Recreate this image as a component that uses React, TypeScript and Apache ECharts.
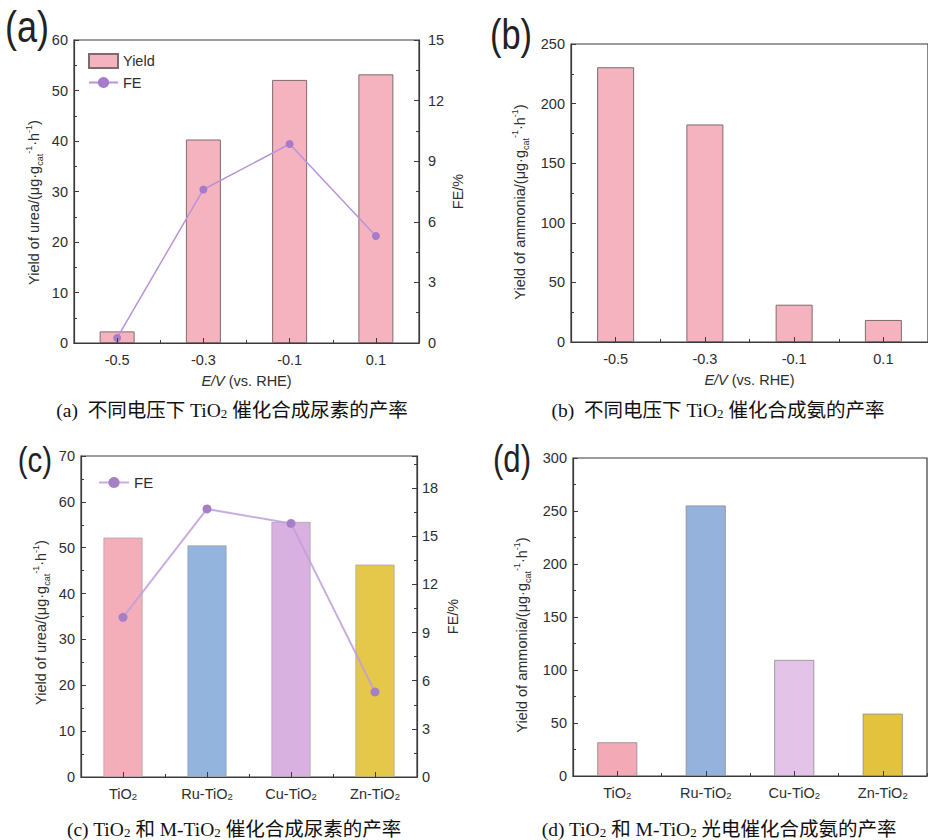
import React, { useEffect, useRef } from 'react';
import * as echarts from 'echarts';

// ---------- data ----------
const voltages = ['-0.5', '-0.3', '-0.1', '0.1'];
const ureaYield = [2.3, 40.3, 52.1, 53.2];
const ureaFE = [0.25, 7.6, 9.85, 5.3];
const ammoniaYield = [230.5, 182.5, 31.3, 18.5];

const catalysts = ['TiO2', 'Ru-TiO2', 'Cu-TiO2', 'Zn-TiO2'];
const catUreaYield = [52.2, 50.5, 55.6, 46.3];
const catUreaFE = [9.95, 16.7, 15.8, 5.3];
const catAmmoniaYield = [31.8, 255.2, 109.5, 58.8];

const panelLabels = ['(a)', '(b)', '(c)', '(d)'];
const captions = [
  '(a)  不同电压下 TiO{s|2} 催化合成尿素的产率',
  '(b)  不同电压下 TiO{s|2} 催化合成氨的产率',
  '(c) TiO{s|2} 和 M-TiO{s|2} 催化合成尿素的产率',
  '(d) TiO{s|2} 和 M-TiO{s|2} 光电催化合成氨的产率',
];

// ---------- styles ----------
const FONT = "'Liberation Sans', Arial, Helvetica, sans-serif";
const SERIF = "'Liberation Serif', 'Times New Roman', 'Noto Sans CJK SC', serif";
const AXIS = '#3a3a3a';
const TXT = '#2e2e2e';
const pink = '#f5b3bf';
const barBorder = '#7d6b6e';
const catColorsUrea = ['#f4aeb9', '#93b4dc', '#d9b1e0', '#e5c84a'];
const catColorsAmmonia = ['#f4a9b6', '#94b2dc', '#e3c4e8', '#e3c33d'];

const yNameRich = {
  n: { fontSize: 14.5, fontFamily: FONT, color: TXT, lineHeight: 20 },
  s: { fontSize: 9, fontFamily: FONT, color: TXT, lineHeight: 9, verticalAlign: 'bottom' },
  p: { fontSize: 9, fontFamily: FONT, color: TXT, lineHeight: 9, verticalAlign: 'top' },
};
const yName = (prefix: string) =>
  `{n|${prefix}/(μg·g}{s|cat}{p|-1}{n|·h}{p|-1}{n|)}`;

const subFmt = (v: string) => v.replace(/2$/, '{s|2}');
const subRich = { s: { fontSize: 9.5, fontFamily: FONT, color: TXT, verticalAlign: 'bottom', lineHeight: 10 } };

function yAxisDef(gridIndex: number, max: number, interval: number, extra: any = {}) {
  return {
    type: 'value',
    gridIndex,
    min: 0,
    max,
    interval,
    axisLine: { show: true, lineStyle: { color: AXIS, width: 1.2 } },
    axisTick: { show: true, inside: true, length: 5, lineStyle: { color: AXIS } },
    minorTick: { show: true, splitNumber: 2, length: 3, lineStyle: { color: AXIS } },
    splitLine: { show: false },
    axisLabel: { color: TXT, fontSize: 14.5, fontFamily: FONT, margin: 6 },
    nameLocation: 'middle',
    nameRotate: 90,
    ...extra,
  };
}

function xMain(gridIndex: number, data: string[], extra: any = {}) {
  return {
    type: 'category',
    gridIndex,
    data,
    position: 'bottom',
    z: 10,
    axisLine: { show: true, onZero: false, lineStyle: { color: AXIS, width: 1.2 } },
    axisTick: { show: true, inside: true, alignWithLabel: true, length: 5, lineStyle: { color: AXIS } },
    axisLabel: {
      color: TXT,
      fontSize: 14.5,
      fontFamily: FONT,
      margin: 9,
      interval: 0,
      formatter: subFmt,
      rich: subRich,
    },
    ...extra,
  };
}

function xMinor(gridIndex: number, data: string[]) {
  return {
    type: 'category',
    gridIndex,
    data,
    position: 'bottom',
    z: 10,
    axisLine: { show: false, onZero: false },
    axisLabel: { show: false },
    axisTick: { show: true, inside: true, length: 3, lineStyle: { color: AXIS } },
    splitLine: { show: false },
  };
}

const xNameAV = {
  name: '{i|E/V} (vs. RHE)',
  nameLocation: 'middle',
  nameGap: 30,
  nameTextStyle: {
    fontSize: 14.5,
    fontFamily: FONT,
    color: TXT,
    rich: { i: { fontSize: 14.5, fontFamily: FONT, color: TXT, fontStyle: 'italic' } },
  },
};

export default function App() {
  const ref = useRef<HTMLDivElement>(null);

  useEffect(() => {
    if (!ref.current) return;
    const chart = echarts.init(ref.current, null, { renderer: 'svg' });

    const grids = [
      { left: 74, top: 40, width: 345, height: 303 },
      { left: 571, top: 44, width: 367, height: 298 },
      { left: 81, top: 456, width: 336, height: 321 },
      { left: 573, top: 458, width: 354, height: 318 },
    ].map((g) => ({ ...g, show: true, borderColor: AXIS, borderWidth: 1.2, backgroundColor: 'transparent' }));

    const option: any = {
      animation: false,
      backgroundColor: '#fff',
      grid: grids,
      xAxis: [
        xMain(0, voltages, xNameAV),
        xMain(1, voltages, xNameAV),
        xMain(2, catalysts),
        xMain(3, catalysts),
        xMinor(0, voltages),
        xMinor(1, voltages),
        xMinor(2, catalysts),
        xMinor(3, catalysts),
      ],
      yAxis: [
        yAxisDef(0, 60, 10, {
          position: 'left',
          name: yName('Yield of urea'),
          nameGap: 30,
          nameTextStyle: { rich: yNameRich, padding: [0, 22, 0, 0] },
        }),
        yAxisDef(0, 15, 3, {
          position: 'right',
          axisLabel: { color: TXT, fontSize: 14.5, fontFamily: FONT, margin: 9 },
          name: 'FE/%',
          nameGap: 31,
          nameTextStyle: { fontSize: 14.5, fontFamily: FONT, color: TXT },
        }),
        yAxisDef(1, 250, 50, {
          position: 'left',
          name: yName('Yield of ammonia'),
          nameGap: 41,
          nameTextStyle: { rich: yNameRich, padding: [0, 18, 0, 0] },
        }),
        yAxisDef(2, 70, 10, {
          position: 'left',
          name: yName('Yield of urea'),
          nameGap: 30,
          nameTextStyle: { rich: yNameRich, padding: [0, 12, 0, 0] },
        }),
        yAxisDef(2, 20, 3, {
          position: 'right',
          axisLabel: { color: TXT, fontSize: 14.5, fontFamily: FONT, margin: 5, showMaxLabel: false },
          name: 'FE/%',
          nameGap: 28,
          nameTextStyle: { fontSize: 14.5, fontFamily: FONT, color: TXT },
        }),
        yAxisDef(3, 300, 50, {
          position: 'left',
          name: yName('Yield of ammonia'),
          nameGap: 41,
          nameTextStyle: { rich: yNameRich, padding: [0, 36, 0, 0] },
        }),
      ],
      legend: [
        {
          data: [{ name: 'Yield', icon: 'rect' }, { name: 'FE' }],
          orient: 'vertical',
          left: 88,
          top: 53,
          padding: 0,
          itemWidth: 29,
          itemHeight: 14,
          itemGap: 6,
          selectedMode: false,
          textStyle: { fontSize: 14.5, fontFamily: FONT, color: TXT },
        },
        {
          data: ['FE '],
          orient: 'vertical',
          left: 98,
          top: 475,
          padding: 0,
          itemWidth: 30,
          itemHeight: 14,
          selectedMode: false,
          formatter: (n: string) => n.trim(),
          textStyle: { fontSize: 15, fontFamily: FONT, color: TXT },
        },
      ],
      series: [
        {
          name: 'Yield',
          type: 'bar',
          xAxisIndex: 0,
          yAxisIndex: 0,
          data: ureaYield,
          barWidth: 35,
          itemStyle: { color: pink, borderColor: barBorder, borderWidth: 1 },
        },
        {
          name: 'FE',
          type: 'line',
          xAxisIndex: 0,
          yAxisIndex: 1,
          data: ureaFE,
          symbol: 'circle',
          symbolSize: 8,
          z: 5,
          lineStyle: { color: '#b894d8', width: 1.5 },
          itemStyle: { color: '#a67bcb' },
        },
        {
          name: 'Ammonia',
          type: 'bar',
          xAxisIndex: 1,
          yAxisIndex: 2,
          data: ammoniaYield,
          barWidth: 37,
          itemStyle: { color: pink, borderColor: barBorder, borderWidth: 1 },
        },
        {
          name: 'Urea M',
          type: 'bar',
          xAxisIndex: 2,
          yAxisIndex: 3,
          data: catUreaYield.map((v, i) => ({ value: v, itemStyle: { color: catColorsUrea[i] } })),
          barWidth: 39,
          itemStyle: { borderColor: '#9a9a9a', borderWidth: 0.6 },
        },
        {
          name: 'FE ',
          type: 'line',
          xAxisIndex: 2,
          yAxisIndex: 4,
          data: catUreaFE,
          symbol: 'circle',
          symbolSize: 9,
          z: 5,
          lineStyle: { color: '#bf9fd9', width: 2, opacity: 0.85 },
          itemStyle: { color: '#a77fc6' },
        },
        {
          name: 'Ammonia M',
          type: 'bar',
          xAxisIndex: 3,
          yAxisIndex: 5,
          data: catAmmoniaYield.map((v, i) => ({ value: v, itemStyle: { color: catColorsAmmonia[i] } })),
          barWidth: 40,
          itemStyle: { borderColor: '#8a8a8a', borderWidth: 0.8 },
        },
      ],
      graphic: [
        ...[
          { x: 27, y: 27, size: 44 },
          { x: 511, y: 34, size: 42 },
          { x: 35, y: 459, size: 36 },
          { x: 512, y: 459, size: 38 },
        ].map((p, i) => ({
          type: 'text',
          x: p.x,
          y: p.y,
          scaleX: 0.82,
          style: {
            text: panelLabels[i],
            fontSize: p.size,
            fontFamily: FONT,
            fill: '#222',
            align: 'center',
            verticalAlign: 'middle',
          },
        })),
        ...[
          { x: 232, y: 410 },
          { x: 718, y: 410 },
          { x: 234, y: 829 },
          { x: 719, y: 829 },
        ].map((p, i) => ({
          type: 'text',
          x: p.x,
          y: p.y,
          style: {
            text: captions[i],
            fontSize: 19.5,
            fontFamily: SERIF,
            fill: '#111',
            align: 'center',
            verticalAlign: 'middle',
            rich: {
              s: { fontSize: 13, fontFamily: SERIF, fill: '#111', verticalAlign: 'bottom', lineHeight: 14 },
            },
          },
        })),
      ],
    };

    chart.setOption(option);
    return () => chart.dispose();
  }, []);

  return (
    <div
      ref={ref}
      style={{ position: 'absolute', left: 0, top: 0, width: 928, height: 840, background: '#fff' }}
    />
  );
}
